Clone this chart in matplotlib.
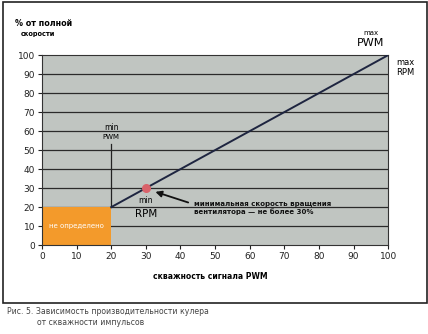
import numpy as np
import matplotlib.pyplot as plt
from matplotlib.patches import Rectangle

# скважность PWM -> % от полной скорости
pwm = [20, 100]
rpm = [20, 100]
min_pwm = 20
min_rpm_point = (30, 30)
undefined_zone = (20, 20)
xticks = list(range(0, 101, 10))
yticks = list(range(0, 101, 10))

fig = plt.figure(figsize=(4.28, 3.34), dpi=100)
fig.patch.set_facecolor("white")
ax = fig.add_axes([0.098, 0.266, 0.809, 0.569])
ax.set_facecolor("#c0c5c1")

ax.set_xlim(0, 100)
ax.set_ylim(0, 100)
ax.set_xticks(xticks)
ax.set_yticks(yticks)
ax.tick_params(labelsize=6.5, length=3, colors="#222222", pad=2)
for sp in ax.spines.values():
    sp.set_color("#333333")
    sp.set_linewidth(0.8)
for y in yticks[1:-1]:
    ax.axhline(y, color="#2a2a2a", lw=0.9, zorder=1)

ax.add_patch(Rectangle((0, 0), undefined_zone[0], undefined_zone[1],
                       facecolor="#f39a2b", edgecolor="none", zorder=2))
ax.text(10, 10, "не определено", color="white", fontsize=5, ha="center",
        va="center", zorder=3)

ax.plot([min_pwm, min_pwm], [20, 53], color="#222222", lw=0.9, zorder=3)
ax.plot(pwm, rpm, color="#1e2540", lw=1.4, zorder=4)
ax.scatter([min_rpm_point[0]], [min_rpm_point[1]], s=30, color="#d9626a",
           zorder=5)

ax.annotate("", xy=(32, 28.5), xytext=(43, 22),
            arrowprops=dict(arrowstyle="-|>", color="#111111", lw=1.3,
                            mutation_scale=9), zorder=6)
ax.text(44, 19.5, "минимальная скорость вращения\nвентилятора — не более 30%",
        fontsize=5.0, fontweight="bold", color="#111111", va="center",
        linespacing=1.3)

ax.text(30, 23.5, "min", fontsize=5.5, ha="center", va="center")
ax.text(30, 16.5, "RPM", fontsize=7.5, ha="center", va="center")
ax.text(20, 62, "min", fontsize=5.5, ha="center", va="center")
ax.text(20, 57, "PWM", fontsize=5, ha="center", va="center")
ax.text(95, 111.6, "max", fontsize=5, ha="center", va="center", clip_on=False)
ax.text(95, 106.5, "PWM", fontsize=8, ha="center", va="center", clip_on=False)
ax.text(105, 96.3, "max", fontsize=6, ha="center", va="center", clip_on=False)
ax.text(105, 91, "RPM", fontsize=6, ha="center", va="center", clip_on=False)

fig.text(0.035, 0.931, "% от полной", fontsize=5.8, fontweight="bold", va="center")
fig.text(0.049, 0.898, "скорости", fontsize=4.8, fontweight="bold", va="center")
ax.set_xlabel("скважность сигнала PWM", fontsize=5.5, fontweight="bold")
ax.xaxis.set_label_coords(0.486, -0.14)

fig.patches.append(Rectangle((0.007, 0.093), 0.990, 0.9, transform=fig.transFigure,
                             fill=False, edgecolor="#222222", lw=1.2))
fig.text(0.016, 0.06, "Рис. 5. Зависимость производительности кулера",
         fontsize=5.6, color="#444444")
fig.text(0.086, 0.026, "от скважности импульсов", fontsize=5.6, color="#444444")

fig.savefig("out.png", dpi=100)
